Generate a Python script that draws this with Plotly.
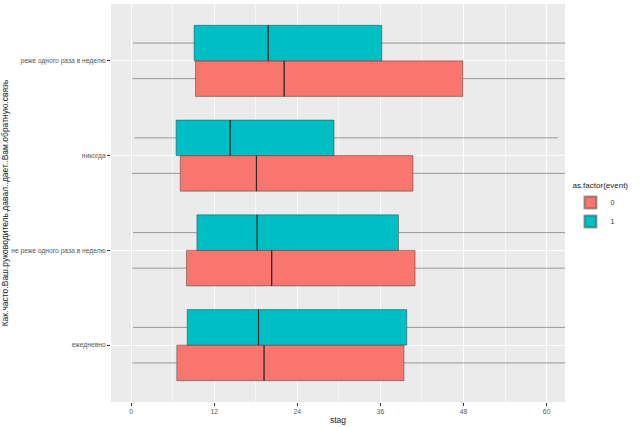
import plotly.graph_objects as go

# categories bottom -> top
categories = ["ежедневно", "не реже одного раза в неделю", "никогда", "реже одного раза в неделю"]

# event = 0 (red)
q1_0 = [6.6, 8.0, 7.1, 9.3]
med_0 = [19.2, 20.3, 18.1, 22.1]
q3_0 = [39.4, 41.0, 40.7, 47.9]
lo_0 = [0.2, 0.2, 0.1, 0.2]
hi_0 = [75.0, 80.0, 80.0, 100.0]

# event = 1 (teal)
q1_1 = [8.1, 9.5, 6.5, 9.1]
med_1 = [18.4, 18.2, 14.3, 19.8]
q3_1 = [39.8, 38.6, 29.3, 36.2]
lo_1 = [0.3, 0.3, 0.5, 0.3]
hi_1 = [80.0, 75.0, 61.6, 75.0]

x_ticks = [0, 12, 24, 36, 48, 60]

DODGE = 0.75
BW = DODGE / 2
COL0 = "#F8766D"
COL1 = "#00BFC4"

fig = go.Figure()

series = [
    ("0", COL0, -BW / 2, q1_0, med_0, q3_0, lo_0, hi_0),
    ("1", COL1, BW / 2, q1_1, med_1, q3_1, lo_1, hi_1),
]

for name, col, off, q1, med, q3, lo, hi in series:
    pos = [i + 1 + off for i in range(len(categories))]
    fig.add_trace(go.Box(
        name=name, orientation="h", y=pos,
        q1=q1, median=med, q3=q3, lowerfence=lo, upperfence=hi,
        width=BW, whiskerwidth=0, fillcolor=col,
        line=dict(color="rgba(51,51,51,0.45)", width=1),
        boxpoints=False, hoverinfo="skip",
    ))

for name, col, off, q1, med, q3, lo, hi in series:
    for i, m in enumerate(med):
        p = i + 1 + off
        fig.add_trace(go.Scatter(
            x=[m, m], y=[p - BW / 2, p + BW / 2], mode="lines",
            line=dict(color="rgba(30,30,30,0.85)", width=1.2),
            showlegend=False, hoverinfo="skip",
        ))

fig.update_layout(
    width=640, height=427,
    margin=dict(l=111, r=75, t=4, b=25, autoexpand=False),
    paper_bgcolor="white", plot_bgcolor="#EBEBEB",
    font=dict(family="Liberation Sans, Arial, sans-serif", size=7, color="#4D4D4D"),
    boxmode="overlay",
    showlegend=True,
    legend=dict(
        title=dict(text="as.factor(event)", font=dict(size=8, color="#222")),
        x=1.012, xanchor="left", y=0.49, yanchor="middle",
        font=dict(size=7, color="#333"), traceorder="normal",
        bgcolor="rgba(0,0,0,0)", itemsizing="constant",
        tracegroupgap=0, itemwidth=30,
    ),
)

fig.update_xaxes(
    range=[-2.9, 62.65], tickvals=x_ticks, ticktext=[str(v) for v in x_ticks],
    showgrid=True, gridcolor="white", gridwidth=1.1, zeroline=False,
    minor=dict(tickvals=[6, 18, 30, 42, 54], showgrid=True, gridcolor="#F7F7F7", gridwidth=0.5, ticks=""),
    ticks="outside", ticklen=3, tickcolor="#333", tickfont=dict(size=6.8, color="#5A5A5A"),
    title=dict(text="stag", font=dict(size=8.5, color="#222"), standoff=2),
    showline=False, automargin=False,
)
fig.update_yaxes(
    range=[0.4, 4.6], tickvals=[1, 2, 3, 4], ticktext=categories,
    showgrid=True, gridcolor="white", gridwidth=1.1, zeroline=False,
    ticks="outside", ticklen=3, tickcolor="#333", tickfont=dict(size=6.7, color="#5A5A5A"),
    title=dict(text="Как.часто.Ваш.руководитель.давал..дает..Вам.обратную.связь",
               font=dict(size=8.5, color="#222"), standoff=3),
    showline=False, automargin=False,
)

fig.write_html(
    "out.html",
    config={"displayModeBar": False},
    post_script="document.body.style.margin='0';document.body.style.padding='0';document.body.style.overflow='hidden';",
)
